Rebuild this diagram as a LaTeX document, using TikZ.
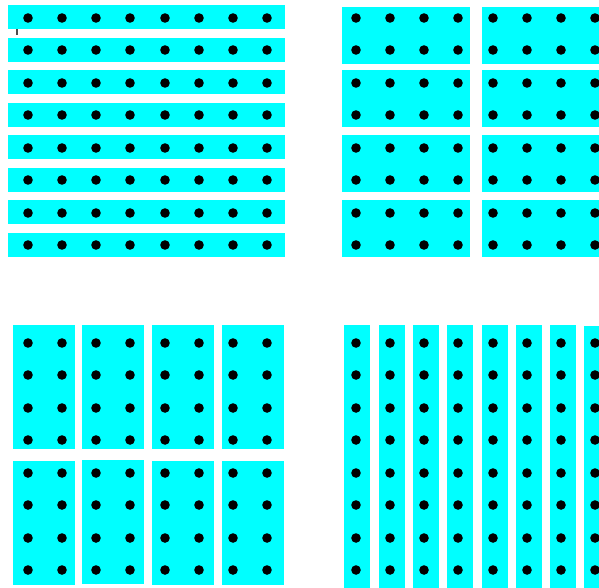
\documentclass[tikz,border=0pt]{standalone}
\definecolor{cy}{RGB}{0,255,255}
\begin{document}
\begin{tikzpicture}[x=1pt,y=-1pt,
  blk/.style={fill=cy},
  dotc/.style={fill=black}]
\useasboundingbox (0,0) rectangle (599,587);
\begin{scope}
\clip (0,0) rectangle (599,587);
% top-left: 8 row strips
\foreach \a/\b in {5/29,38/62,70/94,103/127,135/159,168/192,200/224,233/257}
  \fill[blk] (8,\a) rectangle (285,\b);
% top-right: 2x4 blocks
\foreach \a/\b in {7/64,70/127,135/192,200/257}{
  \fill[blk] (341.5,\a) rectangle (470,\b);
  \fill[blk] (481.5,\a) rectangle (610,\b);
}
% bottom-left: 4x2 blocks
\foreach \l/\r in {13/75,82/144,152/214,222/284}
  \fill[blk] (\l,325) rectangle (\r,449);
\fill[blk] (13,461) rectangle (75,585);
\fill[blk] (82,460) rectangle (144,584);
\fill[blk] (152,461) rectangle (214,585);
\fill[blk] (222,461) rectangle (284,585);
% bottom-right: column strips
\foreach \l in {344,379,413,447,482,516,550}
  \fill[blk] (\l,325) rectangle ({\l+26},590);
\fill[blk] (584,326) rectangle (610,590);
% dots
\foreach \y in {18,50,83,115,148,180,213,245}
  \foreach \x in {28,62,96,130,165,199,233,267}{
    \fill[dotc] (\x,\y) circle (4.8);
    \fill[dotc] (\x+328,\y) circle (4.8);
  }
\foreach \y in {343,375,408,440,473,505,538,570}
  \foreach \x in {28,62,96,130,165,199,233,267}{
    \fill[dotc] (\x,\y) circle (4.8);
    \fill[dotc] (\x+328,\y) circle (4.8);
  }
% small tick
\fill[black!70] (16,29) rectangle (17.7,35);
\end{scope}
\end{tikzpicture}
\end{document}
